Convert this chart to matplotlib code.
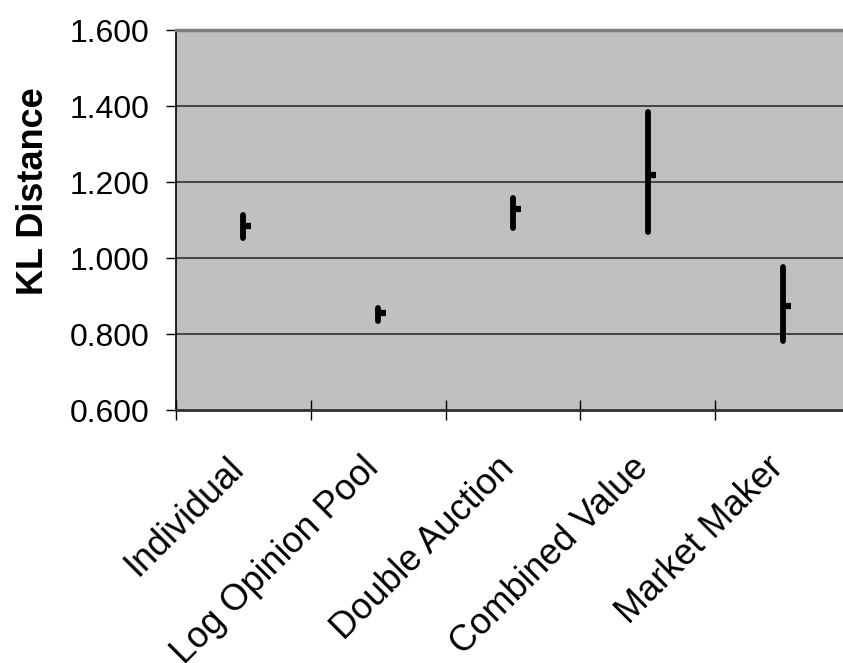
import matplotlib
matplotlib.use("Agg")
import matplotlib.pyplot as plt
from matplotlib.path import Path
from matplotlib.transforms import blended_transform_factory, ScaledTranslation

plt.rcParams['font.family'] = ['Liberation Sans', 'DejaVu Sans']

categories = ["Individual", "Log Opinion Pool", "Double Auction", "Combined Value", "Market Maker"]
high = [1.112, 0.869, 1.158, 1.383, 0.976]
low = [1.053, 0.834, 1.079, 1.068, 0.782]
close = [1.083, 0.856, 1.128, 1.219, 0.875]
yticks = [0.6, 0.8, 1.0, 1.2, 1.4, 1.6]
ytick_labels = ["0.600", "0.800", "1.000", "1.200", "1.400", "1.600"]

W, H = 843, 663
fig = plt.figure(figsize=(W / 100, H / 100), dpi=100)
left_px, top_px, bottom_px = 176, 30, 410
cat_w = 134.8
ax = fig.add_axes([left_px / W, (H - bottom_px) / H, 5 * cat_w / W, (bottom_px - top_px) / H])
ax.set_facecolor("#C0C0C0")

x = list(range(len(categories)))
ax.set_xlim(-0.5, len(categories) - 0.5)
ax.set_ylim(0.6, 1.6)

for y in yticks[1:-1]:
    ax.axhline(y, color="#3a3a3a", lw=1.3, zorder=1)

lc = ax.vlines(x, low, high, colors="black", lw=4.2, zorder=3)
lc.set_capstyle("round")
stub = Path([(0, 0), (1, 0)], [Path.MOVETO, Path.LINETO])
ax.plot(x, close, linestyle="none", marker=stub, markersize=12,
        markeredgewidth=4.5, markeredgecolor="black", zorder=4)

ax.set_yticks(yticks)
ax.set_yticklabels(ytick_labels, fontsize=23)
ax.tick_params(axis="y", direction="out", length=7, width=1, pad=12, color="black")

ax.set_xticks([i + 0.5 for i in x[:-1]] + [-0.5])
ax.set_xticklabels([])
ax.tick_params(axis="x", direction="inout", length=15, width=1, color="black")

trans = blended_transform_factory(ax.transData, ax.transAxes) + \
    ScaledTranslation(-17 / 100, -40 / 100, fig.dpi_scale_trans)
for xi, lab in zip(x, categories):
    ax.text(xi, 0, lab, transform=trans, fontsize=26, rotation=45, ha="right",
            va="top", rotation_mode="anchor", clip_on=False)

ax.spines["right"].set_visible(False)
ax.spines["top"].set_color("#808080")
ax.spines["top"].set_linewidth(2.5)
ax.spines["left"].set_color("black")
ax.spines["left"].set_linewidth(1.2)
ax.spines["bottom"].set_color("#303030")
ax.spines["bottom"].set_linewidth(2.0)

fig.text(34 / W, (H - 191) / H, "KL Distance", rotation=90, fontsize=26,
         fontweight="bold", ha="center", va="center")

fig.savefig("out.png", dpi=100)
